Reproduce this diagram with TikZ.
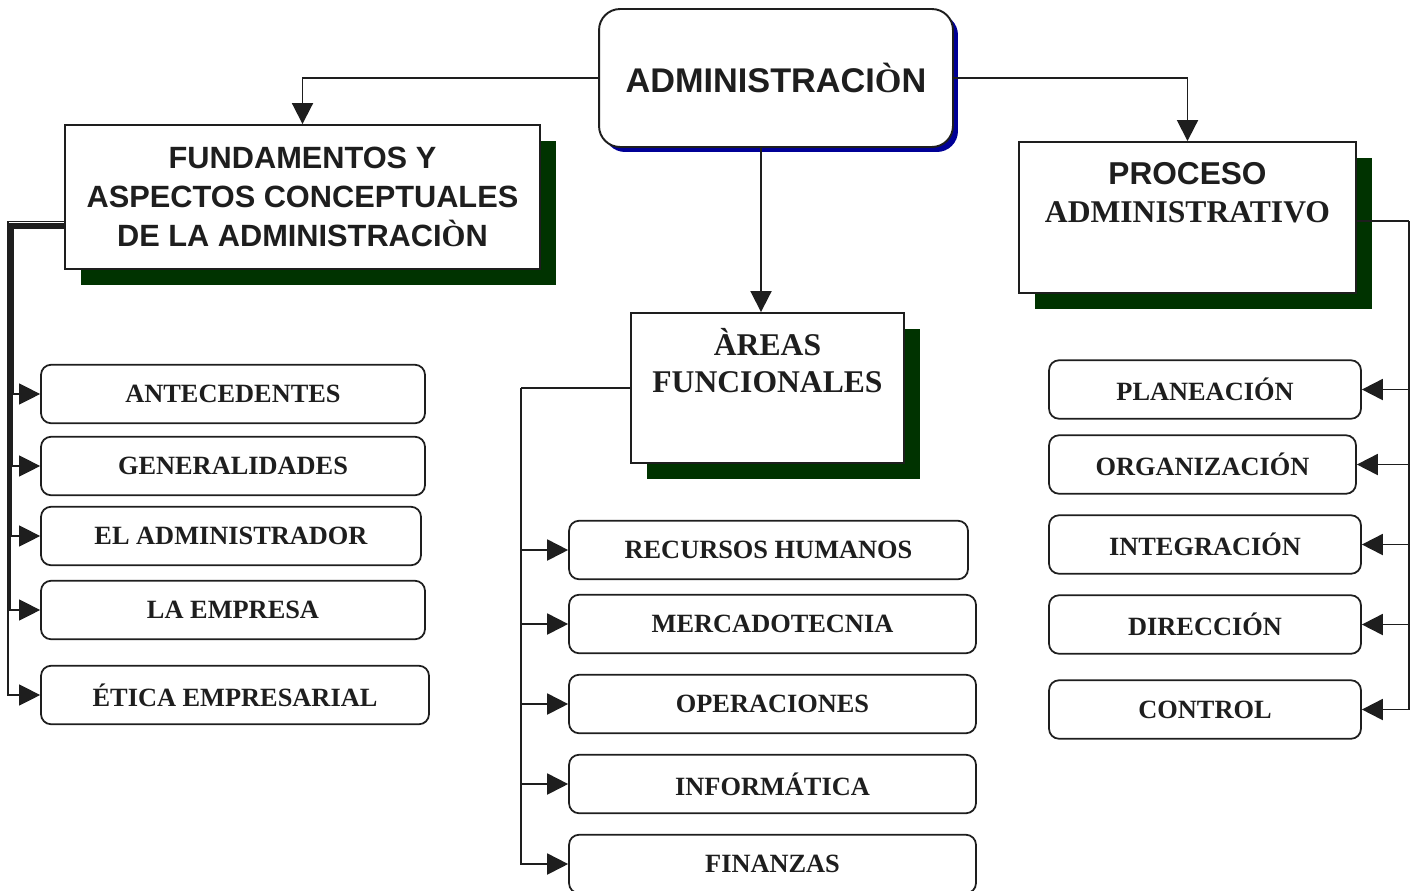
\documentclass[tikz,border=0pt]{standalone}
\usepackage{fontspec}
\setmainfont{Liberation Serif}
\setsansfont{Liberation Sans}
\usepackage{tikz}
\usetikzlibrary{arrows.meta}
\usetikzlibrary{shadows}
\definecolor{shgreen}{RGB}{0,51,0}
\definecolor{shblue}{RGB}{0,0,150}
\definecolor{ink}{RGB}{30,30,30}

\begin{document}
\begin{tikzpicture}[x=0.02cm,y=-0.02cm,
		conn/.style={draw=ink,line width=1.1pt},
		arr/.style={conn,-{Triangle[length=0.42cm,width=0.42cm]}},
		topbox/.style={draw=ink,line width=1.1pt,fill=white,rounded corners=0.42cm,text=ink,
			font=\sffamily\bfseries\fontsize{19.5}{23}\selectfont,
			drop shadow={shadow xshift=0.1cm,shadow yshift=-0.1cm,fill=shblue,opacity=1}},
		areabox/.style={draw=ink,line width=1.1pt,fill=white,align=center,text=ink,
			drop shadow={shadow xshift=0.32cm,shadow yshift=-0.32cm,fill=shgreen,opacity=1}},
		itembox/.style={draw=ink,line width=1pt,fill=white,rounded corners=0.2cm,text=ink,
			minimum height=1.17cm,font=\bfseries\fontsize{15}{18}\selectfont}]
		\useasboundingbox (0,0) rectangle (1419,890);
		
		\node[topbox,minimum width=7.08cm,minimum height=2.76cm] (admin) at (776,78) {\raisebox{-0.14cm}{ADMINISTRACI{\rmfamily Ò}N}};
		\node[areabox,minimum width=9.5cm,minimum height=2.88cm,font=\sffamily\bfseries\fontsize{17.5}{22.2}\selectfont] (fund) at (302.5,197) {FUNDAMENTOS Y\\ASPECTOS CONCEPTUALES\\DE LA ADMINISTRACI{\rmfamily Ò}N};
		\node[areabox,minimum width=6.74cm,minimum height=3.02cm,
			label={[anchor=north,yshift=-0.3cm,align=center,text=ink,font=\bfseries\fontsize{18}{21.6}\selectfont]north:{\sffamily PROCESO}\\ADMINISTRATIVO}] (proc) at (1187.5,217.5) {};
		\node[areabox,minimum width=5.46cm,minimum height=3cm,
			label={[anchor=north,yshift=-0.2cm,align=center,text=ink,font=\bfseries\fontsize{18}{21}\selectfont]north:ÀREAS\\FUNCIONALES}] (areas) at (767.5,388) {};
		
		\foreach \nm/\cx/\cy/\w/\txt in {
			ant/233/394/7.68/ANTECEDENTES,
			gen/233/466/7.68/GENERALIDADES,
			adm/231/536/7.6/EL ADMINISTRADOR,
			emp/233/610/7.68/LA EMPRESA,
			eti/235/695/7.76/ÉTICA EMPRESARIAL,
			rec/768.5/550/7.98/RECURSOS HUMANOS,
			mer/772.5/624/8.14/MERCADOTECNIA,
			ope/772.5/704/8.14/OPERACIONES,
			inf/772.5/784/8.14/INFORMÁTICA,
			fin/772.5/864/8.14/FINANZAS,
			pla/1205/389.5/6.24/PLANEACIÓN,
			org/1202.5/464.5/6.14/ORGANIZACIÓN,
			int/1205/544.5/6.24/INTEGRACIÓN,
			dir/1205/624.5/6.24/DIRECCIÓN,
			con/1205/709.5/6.24/CONTROL} {
			\node[itembox,minimum width=\w cm] (\nm) at (\cx,\cy) {\txt};
		}
		
		\draw[arr] (admin.west) -| (fund.north);
		\draw[arr] (admin.east) -| (proc.north);
		\draw[arr] ([xshift=-0.3cm]admin.south) -- ([xshift=-0.13cm]areas.north);
		
		\foreach \nm/\bx/\by in {ant/13/228,gen/12/227,adm/11/225.5,emp/10/224,eti/8/221.5} {
			\coordinate (lb) at (\bx,\by);
			\draw[arr,line width=0.7pt] (fund.west |- lb) -- (lb) |- (\nm.west);
		}
		
		\coordinate (mbus) at (521,388);
		\draw[conn] (areas.west) -- (mbus);
		\foreach \nm in {rec,mer,ope,inf,fin} {
			\draw[arr] (mbus) |- (\nm.west);
		}
		
		\coordinate (rbus) at (1409,221);
		\draw[conn] (proc.east |- rbus) -- (rbus);
		\foreach \nm in {pla,org,int,dir,con} {
			\draw[arr] (rbus) |- (\nm.east);
		}
	\end{tikzpicture}
\end{document}
